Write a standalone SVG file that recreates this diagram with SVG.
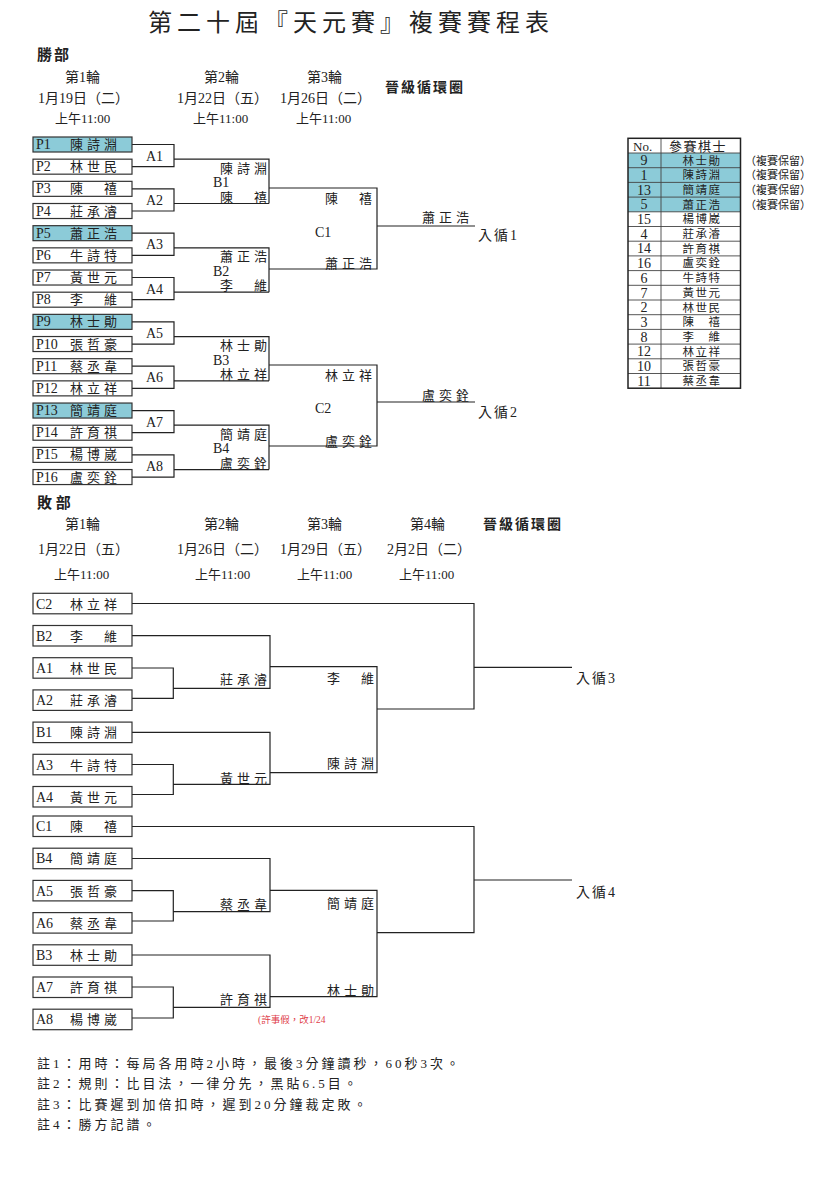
<svg xmlns="http://www.w3.org/2000/svg" width="817" height="1200" viewBox="0 0 817 1200">
<style>
text{font-family:"Liberation Serif","Noto Sans CJK TC",serif;fill:#222;font-size:14px}
.ttl{font-size:24px;letter-spacing:5px}
.b{font-weight:bold}
.nm{font-size:13px;letter-spacing:4px}
.sm{font-size:13px}
.tb{font-size:11.5px;letter-spacing:1.5px}
.num{font-size:14px}
.note{font-size:13px;letter-spacing:3px}
.red{font-size:9.5px;fill:#e0404a}
.ln{fill:none;stroke:#222;stroke-width:1.2}
.bx{fill:#fff;stroke:#333;stroke-width:1.2}
.hl{fill:#8ccbd8;stroke:#333;stroke-width:1.2}
.grid{fill:none;stroke:#444;stroke-width:0.9}
</style>
<rect width="817" height="1200" fill="#fff"/>

<g id="header">
<text class="ttl" x="148" y="31">第二十屆『天元賽』複賽賽程表</text>
<text class="b" x="37" y="60" style="font-size:15px;letter-spacing:2px">勝部</text>
<text x="65" y="82">第1輪</text>
<text x="204" y="82">第2輪</text>
<text x="307" y="82">第3輪</text>
<text class="b" x="385" y="92" style="letter-spacing:2px">晉級循環圈</text>
<text x="38" y="103">1月19日（二）</text>
<text x="177" y="103">1月22日（五）</text>
<text x="280" y="103">1月26日（二）</text>
<text class="sm" x="55" y="122.5">上午11:00</text>
<text class="sm" x="193" y="122.5">上午11:00</text>
<text class="sm" x="296" y="122.5">上午11:00</text>
</g>

<g id="connectors">
<!-- winners A brackets and B boxes -->
<path class="ln" d="M132,144.5H174V166.67H132M174,159.17H269V203.51M132,188.84H174V211.01H132M174,203.51H269"/>
<path class="ln" d="M132,233.18H174V255.35H132M174,247.85H269V292.19M132,277.52H174V299.69H132M174,292.19H269"/>
<path class="ln" d="M132,321.86H174V344.03H132M174,336.53H269V380.87M132,366.2H174V388.37H132M174,380.87H269"/>
<path class="ln" d="M132,410.54H174V432.71H132M174,425.21H269V469.55M132,454.88H174V477.05H132M174,469.55H269"/>
<!-- winners C -->
<path class="ln" d="M269,188H377V269H269M377,226H475"/>
<path class="ln" d="M269,365H377V446H269M377,402H475"/>
<!-- losers group 1 -->
<path class="ln" d="M132,603.5H474V709H377M474,667.3H572"/>
<path class="ln" d="M132,635.7H270V688.3H173.3M132,668H173.3V698.3H132"/>
<path class="ln" d="M270,666.7H377V772.7H270"/>
<path class="ln" d="M132,732.3H270V784.3H173.3M132,764.5H173.3V794.5H132"/>
<!-- losers group 2 -->
<path class="ln" d="M132,826.5H474V932.7H377M474,880H572"/>
<path class="ln" d="M132,858.5H270V911.7H173.3M132,890.6H173.3V921H132"/>
<path class="ln" d="M270,890.3H377V996.7H270"/>
<path class="ln" d="M132,955H270V1007.3H173.3M132,987H173.3V1018H132"/>
</g>

<!-- winners players -->
<g id="w-p1"><rect class="hl" x="33" y="137" width="99" height="15"/><text x="36" y="149">P1</text><text class="nm" x="70" y="149">陳詩淵</text></g>
<g id="w-p2"><rect class="bx" x="33" y="159.17" width="99" height="15"/><text x="36" y="171.2">P2</text><text class="nm" x="70" y="171.2">林世民</text></g>
<g id="w-p3"><rect class="bx" x="33" y="181.34" width="99" height="15"/><text x="36" y="193.3">P3</text><text class="nm" x="70" y="193.3">陳　禧</text></g>
<g id="w-p4"><rect class="bx" x="33" y="203.51" width="99" height="15"/><text x="36" y="215.5">P4</text><text class="nm" x="70" y="215.5">莊承濬</text></g>
<g id="w-p5"><rect class="hl" x="33" y="225.68" width="99" height="15"/><text x="36" y="237.7">P5</text><text class="nm" x="70" y="237.7">蕭正浩</text></g>
<g id="w-p6"><rect class="bx" x="33" y="247.85" width="99" height="15"/><text x="36" y="259.9">P6</text><text class="nm" x="70" y="259.9">牛詩特</text></g>
<g id="w-p7"><rect class="bx" x="33" y="270.02" width="99" height="15"/><text x="36" y="282">P7</text><text class="nm" x="70" y="282">黃世元</text></g>
<g id="w-p8"><rect class="bx" x="33" y="292.19" width="99" height="15"/><text x="36" y="304.2">P8</text><text class="nm" x="70" y="304.2">李　維</text></g>
<g id="w-p9"><rect class="hl" x="33" y="314.36" width="99" height="15"/><text x="36" y="326.4">P9</text><text class="nm" x="70" y="326.4">林士勛</text></g>
<g id="w-p10"><rect class="bx" x="33" y="336.53" width="99" height="15"/><text x="36" y="348.5">P10</text><text class="nm" x="70" y="348.5">張哲豪</text></g>
<g id="w-p11"><rect class="bx" x="33" y="358.7" width="99" height="15"/><text x="36" y="370.7">P11</text><text class="nm" x="70" y="370.7">蔡丞韋</text></g>
<g id="w-p12"><rect class="bx" x="33" y="380.87" width="99" height="15"/><text x="36" y="392.9">P12</text><text class="nm" x="70" y="392.9">林立祥</text></g>
<g id="w-p13"><rect class="hl" x="33" y="403.04" width="99" height="15"/><text x="36" y="415">P13</text><text class="nm" x="70" y="415">簡靖庭</text></g>
<g id="w-p14"><rect class="bx" x="33" y="425.21" width="99" height="15"/><text x="36" y="437.2">P14</text><text class="nm" x="70" y="437.2">許育祺</text></g>
<g id="w-p15"><rect class="bx" x="33" y="447.38" width="99" height="15"/><text x="36" y="459.4">P15</text><text class="nm" x="70" y="459.4">楊博崴</text></g>
<g id="w-p16"><rect class="bx" x="33" y="469.55" width="99" height="15"/><text x="36" y="481.5">P16</text><text class="nm" x="70" y="481.5">盧奕銓</text></g>

<!-- A labels -->
<g id="w-a1"><text x="146" y="160.5">A1</text></g>
<g id="w-a2"><text x="146" y="205">A2</text></g>
<g id="w-a3"><text x="146" y="249.3">A3</text></g>
<g id="w-a4"><text x="146" y="293.6">A4</text></g>
<g id="w-a5"><text x="146" y="338">A5</text></g>
<g id="w-a6"><text x="146" y="382.3">A6</text></g>
<g id="w-a7"><text x="146" y="426.6">A7</text></g>
<g id="w-a8"><text x="146" y="471">A8</text></g>

<!-- B nodes -->
<g id="w-b1"><text class="nm" x="220" y="172.7">陳詩淵</text><text x="213" y="187.2">B1</text><text class="nm" x="220" y="201.7">陳　禧</text></g>
<g id="w-b2"><text class="nm" x="220" y="261.4">蕭正浩</text><text x="213" y="275.9">B2</text><text class="nm" x="220" y="290.4">李　維</text></g>
<g id="w-b3"><text class="nm" x="220" y="350">林士勛</text><text x="213" y="364.5">B3</text><text class="nm" x="220" y="379">林立祥</text></g>
<g id="w-b4"><text class="nm" x="220" y="438.7">簡靖庭</text><text x="213" y="453.2">B4</text><text class="nm" x="220" y="467.7">盧奕銓</text></g>

<!-- C nodes -->
<g id="w-c1"><text class="nm" x="325" y="203">陳　禧</text><text x="315" y="237">C1</text><text class="nm" x="325" y="268">蕭正浩</text><text class="nm" x="422" y="222">蕭正浩</text><text x="478" y="240" style="letter-spacing:2px">入循1</text></g>
<g id="w-c2"><text class="nm" x="325" y="380">林立祥</text><text x="315" y="413">C2</text><text class="nm" x="325" y="445.5">盧奕銓</text><text class="nm" x="422" y="400">盧奕銓</text><text x="478" y="417" style="letter-spacing:2px">入循2</text></g>

<!-- roster table -->
<g id="roster">
<rect x="628" y="153" width="112.5" height="58.8" fill="#8ccbd8"/>
<path class="grid" d="M628,153H740.5M628,167.7H740.5M628,182.4H740.5M628,197.1H740.5M628,211.8H740.5M628,226.5H740.5M628,241.2H740.5M628,255.9H740.5M628,270.6H740.5M628,285.3H740.5M628,300H740.5M628,314.7H740.5M628,329.4H740.5M628,344.1H740.5M628,358.8H740.5M628,373.5H740.5M661,138.3V388.2"/>
<rect x="628" y="138.3" width="112.5" height="249.9" fill="none" stroke="#222" stroke-width="1.5"/>
<text x="633" y="150.5" style="font-size:13px">No.</text>
<text class="tb" x="669" y="150.5" style="font-size:13px">參賽棋士</text>
<g text-anchor="middle">
<text class="num" x="644" y="165.2">9</text><text class="tb" x="702" y="164.5">林士勛</text>
<text class="num" x="644" y="179.9">1</text><text class="tb" x="702" y="179.2">陳詩淵</text>
<text class="num" x="644" y="194.6">13</text><text class="tb" x="702" y="193.9">簡靖庭</text>
<text class="num" x="644" y="209.3">5</text><text class="tb" x="702" y="208.6">蕭正浩</text>
<text class="num" x="644" y="224">15</text><text class="tb" x="702" y="223.3">楊博崴</text>
<text class="num" x="644" y="238.7">4</text><text class="tb" x="702" y="238">莊承濬</text>
<text class="num" x="644" y="253.4">14</text><text class="tb" x="702" y="252.7">許育祺</text>
<text class="num" x="644" y="268.1">16</text><text class="tb" x="702" y="267.4">盧奕銓</text>
<text class="num" x="644" y="282.8">6</text><text class="tb" x="702" y="282.1">牛詩特</text>
<text class="num" x="644" y="297.5">7</text><text class="tb" x="702" y="296.8">黃世元</text>
<text class="num" x="644" y="312.2">2</text><text class="tb" x="702" y="311.5">林世民</text>
<text class="num" x="644" y="326.9">3</text><text class="tb" x="702" y="326.2">陳　禧</text>
<text class="num" x="644" y="341.6">8</text><text class="tb" x="702" y="340.9">李　維</text>
<text class="num" x="644" y="356.3">12</text><text class="tb" x="702" y="355.6">林立祥</text>
<text class="num" x="644" y="371">10</text><text class="tb" x="702" y="370.3">張哲豪</text>
<text class="num" x="644" y="385.7">11</text><text class="tb" x="702" y="385">蔡丞韋</text>
</g>
<text x="745" y="164.5" style="font-size:11px">（複賽保留）</text>
<text x="745" y="179.2" style="font-size:11px">（複賽保留）</text>
<text x="745" y="193.9" style="font-size:11px">（複賽保留）</text>
<text x="745" y="208.6" style="font-size:11px">（複賽保留）</text>
</g>

<!-- losers header -->
<g id="l-header">
<text class="b" x="37" y="508" style="font-size:15px">敗 部</text>
<text x="65" y="529">第1輪</text>
<text x="204" y="529">第2輪</text>
<text x="307" y="529">第3輪</text>
<text x="410" y="529">第4輪</text>
<text class="b" x="483" y="529" style="letter-spacing:2px">晉級循環圈</text>
<text x="38" y="554">1月22日（五）</text>
<text x="177" y="554">1月26日（二）</text>
<text x="280" y="554">1月29日（五）</text>
<text x="387" y="554">2月2日（二）</text>
<text class="sm" x="54" y="578.5">上午11:00</text>
<text class="sm" x="195" y="578.5">上午11:00</text>
<text class="sm" x="297" y="578.5">上午11:00</text>
<text class="sm" x="399" y="578.5">上午11:00</text>
</g>

<!-- losers players -->
<g id="l-c2"><rect class="bx" x="33" y="593.3" width="99" height="20.5"/><text x="36" y="608.5">C2</text><text class="nm" x="70" y="608.5">林立祥</text></g>
<g id="l-b2"><rect class="bx" x="33" y="625.5" width="99" height="20.5"/><text x="36" y="640.7">B2</text><text class="nm" x="70" y="640.7">李　維</text></g>
<g id="l-a1"><rect class="bx" x="33" y="657.7" width="99" height="20.5"/><text x="36" y="672.9">A1</text><text class="nm" x="70" y="672.9">林世民</text></g>
<g id="l-a2"><rect class="bx" x="33" y="689.9" width="99" height="20.5"/><text x="36" y="705.1">A2</text><text class="nm" x="70" y="705.1">莊承濬</text></g>
<g id="l-b1"><rect class="bx" x="33" y="722.1" width="99" height="20.5"/><text x="36" y="737.3">B1</text><text class="nm" x="70" y="737.3">陳詩淵</text></g>
<g id="l-a3"><rect class="bx" x="33" y="754.3" width="99" height="20.5"/><text x="36" y="769.5">A3</text><text class="nm" x="70" y="769.5">牛詩特</text></g>
<g id="l-a4"><rect class="bx" x="33" y="786.5" width="99" height="20.5"/><text x="36" y="801.7">A4</text><text class="nm" x="70" y="801.7">黃世元</text></g>
<g id="l-c1"><rect class="bx" x="33" y="816" width="99" height="20.5"/><text x="36" y="831.2">C1</text><text class="nm" x="70" y="831.2">陳　禧</text></g>
<g id="l-b4"><rect class="bx" x="33" y="848.2" width="99" height="20.5"/><text x="36" y="863.4">B4</text><text class="nm" x="70" y="863.4">簡靖庭</text></g>
<g id="l-a5"><rect class="bx" x="33" y="880.4" width="99" height="20.5"/><text x="36" y="895.6">A5</text><text class="nm" x="70" y="895.6">張哲豪</text></g>
<g id="l-a6"><rect class="bx" x="33" y="912.6" width="99" height="20.5"/><text x="36" y="927.8">A6</text><text class="nm" x="70" y="927.8">蔡丞韋</text></g>
<g id="l-b3"><rect class="bx" x="33" y="944.8" width="99" height="20.5"/><text x="36" y="960">B3</text><text class="nm" x="70" y="960">林士勛</text></g>
<g id="l-a7"><rect class="bx" x="33" y="977" width="99" height="20.5"/><text x="36" y="992.2">A7</text><text class="nm" x="70" y="992.2">許育祺</text></g>
<g id="l-a8"><rect class="bx" x="33" y="1009.2" width="99" height="20.5"/><text x="36" y="1024.4">A8</text><text class="nm" x="70" y="1024.4">楊博崴</text></g>

<!-- losers results -->
<g id="l-r1"><text class="nm" x="220" y="684">莊承濬</text></g>
<g id="l-r2"><text class="nm" x="220" y="782.5">黃世元</text></g>
<g id="l-r3"><text class="nm" x="327" y="683">李　維</text><text class="nm" x="327" y="768">陳詩淵</text></g>
<g id="l-out3"><text x="576" y="683" style="letter-spacing:2px">入循3</text></g>
<g id="l-r4"><text class="nm" x="220" y="909">蔡丞韋</text></g>
<g id="l-r5"><text class="nm" x="220" y="1004">許育祺</text><text class="red" x="258" y="1023">(許事假，改1/24</text></g>
<g id="l-r6"><text class="nm" x="327" y="908">簡靖庭</text><text class="nm" x="327" y="995">林士勛</text></g>
<g id="l-out4"><text x="576" y="897" style="letter-spacing:2px">入循4</text></g>

<g id="notes">
<text class="note" x="37" y="1068">註1：用時：每局各用時2小時，最後3分鐘讀秒，60秒3次。</text>
<text class="note" x="37" y="1088">註2：規則：比目法，一律分先，黑貼6.5目。</text>
<text class="note" x="37" y="1109">註3：比賽遲到加倍扣時，遲到20分鐘裁定敗。</text>
<text class="note" x="37" y="1129">註4：勝方記譜。</text>
</g>
</svg>
